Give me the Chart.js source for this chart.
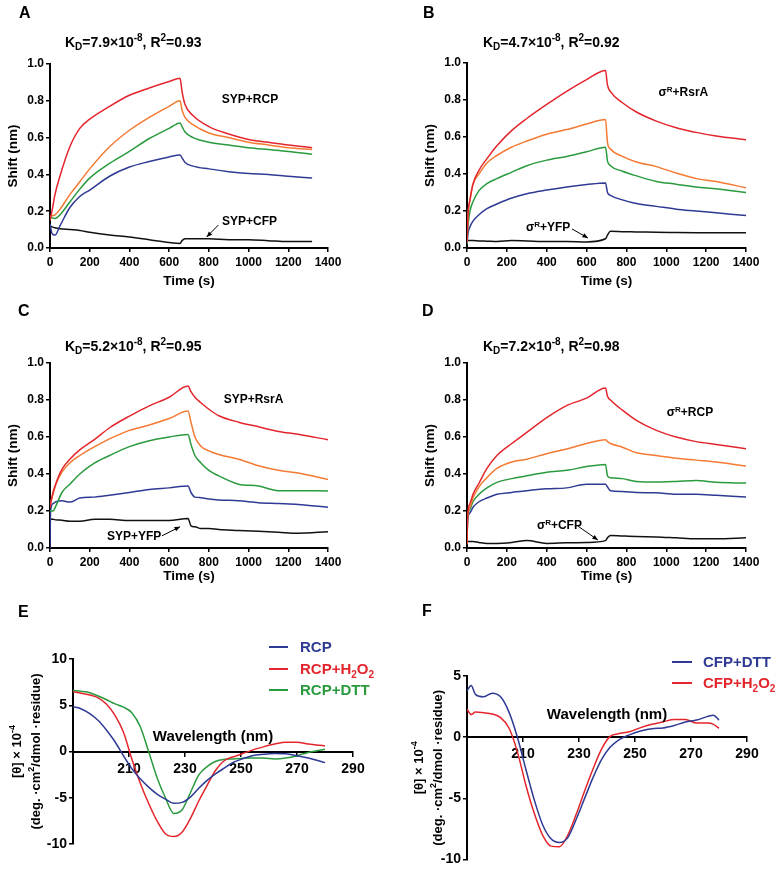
<!DOCTYPE html>
<html>
<head>
<meta charset="utf-8">
<script src="https://cdn.jsdelivr.net/npm/chart.js@4.4.1/dist/chart.umd.min.js"></script>
<style>
  body { margin: 0; background: #fff; }
  #fig { position: relative; width: 782px; height: 870px; background: #fff; }
  #fig canvas { position: absolute; }
</style>
</head>
<body>
<div id="fig">
  <canvas id="panelA" width="391" height="292" style="left:0;top:0"></canvas>
  <canvas id="panelB" width="391" height="292" style="left:391px;top:0"></canvas>
  <canvas id="panelC" width="391" height="292" style="left:0;top:292px"></canvas>
  <canvas id="panelD" width="391" height="292" style="left:391px;top:292px"></canvas>
  <canvas id="panelE" width="391" height="286" style="left:0;top:584px"></canvas>
  <canvas id="panelF" width="391" height="286" style="left:391px;top:584px"></canvas>
</div>
<script>
// ---- data ----
// A: SYP + RCP
const timeA = [0, 10, 25, 50, 100, 150, 200, 300, 400, 500, 600, 655, 665, 680, 720, 800, 900, 1000, 1100, 1200, 1320];
const redA = [0.15, 0.20, 0.29, 0.39, 0.55, 0.65, 0.70, 0.77, 0.83, 0.87, 0.905, 0.922, 0.85, 0.78, 0.72, 0.66, 0.62, 0.59, 0.575, 0.56, 0.545];
const orangeA = [0.17, 0.175, 0.18, 0.21, 0.29, 0.36, 0.43, 0.55, 0.64, 0.71, 0.77, 0.80, 0.75, 0.71, 0.67, 0.625, 0.60, 0.575, 0.56, 0.545, 0.535];
const greenA = [0.16, 0.165, 0.16, 0.18, 0.25, 0.32, 0.38, 0.46, 0.525, 0.595, 0.65, 0.68, 0.66, 0.63, 0.60, 0.575, 0.56, 0.545, 0.535, 0.525, 0.51];
const blueA = [0.13, 0.08, 0.07, 0.12, 0.22, 0.28, 0.315, 0.39, 0.44, 0.47, 0.495, 0.505, 0.49, 0.465, 0.445, 0.43, 0.415, 0.405, 0.40, 0.39, 0.38];
const blackA = [0.12, 0.115, 0.11, 0.105, 0.10, 0.095, 0.085, 0.07, 0.06, 0.045, 0.03, 0.025, 0.04, 0.05, 0.05, 0.05, 0.045, 0.045, 0.04, 0.035, 0.035];

// B: sigmaR + RsrA
const timeB = [0, 5, 15, 30, 60, 100, 150, 225, 300, 400, 500, 600, 695, 705, 720, 780, 850, 950, 1050, 1150, 1250, 1400];
const redB = [0.03, 0.18, 0.26, 0.345, 0.42, 0.483, 0.553, 0.636, 0.70, 0.776, 0.847, 0.91, 0.96, 0.88, 0.845, 0.785, 0.735, 0.686, 0.65, 0.625, 0.605, 0.585];
const orangeB = [0.03, 0.18, 0.26, 0.345, 0.40, 0.46, 0.50, 0.546, 0.578, 0.615, 0.64, 0.67, 0.695, 0.57, 0.535, 0.495, 0.465, 0.44, 0.405, 0.375, 0.36, 0.325];
const greenB = [0.02, 0.12, 0.20, 0.25, 0.31, 0.348, 0.375, 0.41, 0.445, 0.475, 0.495, 0.52, 0.545, 0.47, 0.445, 0.415, 0.39, 0.36, 0.345, 0.33, 0.32, 0.30];
const blueB = [0.02, 0.08, 0.115, 0.145, 0.18, 0.213, 0.238, 0.27, 0.293, 0.313, 0.33, 0.343, 0.352, 0.30, 0.285, 0.26, 0.24, 0.225, 0.21, 0.20, 0.19, 0.175];
const blackB = [0.04, 0.04, 0.04, 0.04, 0.038, 0.037, 0.035, 0.04, 0.038, 0.035, 0.035, 0.033, 0.05, 0.07, 0.09, 0.088, 0.087, 0.085, 0.084, 0.083, 0.082, 0.082];

// C: SYP + RsrA
const timeC = [0, 3, 15, 30, 60, 100, 150, 225, 300, 400, 500, 600, 695, 710, 730, 760, 800, 850, 950, 1050, 1150, 1250, 1400];
const redC = [0.22, 0.24, 0.30, 0.35, 0.425, 0.48, 0.53, 0.587, 0.65, 0.713, 0.768, 0.815, 0.876, 0.845, 0.815, 0.785, 0.75, 0.715, 0.68, 0.655, 0.63, 0.615, 0.585];
const orangeC = [0.22, 0.24, 0.29, 0.345, 0.41, 0.46, 0.50, 0.548, 0.59, 0.636, 0.665, 0.70, 0.74, 0.68, 0.60, 0.55, 0.525, 0.505, 0.48, 0.445, 0.42, 0.405, 0.37];
const greenC = [0.20, 0.20, 0.20, 0.228, 0.30, 0.345, 0.40, 0.46, 0.50, 0.548, 0.58, 0.60, 0.614, 0.56, 0.50, 0.46, 0.42, 0.39, 0.345, 0.335, 0.31, 0.31, 0.308];
const blueC = [0.0, 0.20, 0.24, 0.25, 0.255, 0.248, 0.27, 0.275, 0.285, 0.30, 0.316, 0.325, 0.335, 0.30, 0.275, 0.272, 0.265, 0.26, 0.255, 0.245, 0.24, 0.235, 0.22];
const blackC = [0.155, 0.155, 0.155, 0.152, 0.15, 0.145, 0.145, 0.155, 0.155, 0.148, 0.148, 0.148, 0.16, 0.12, 0.115, 0.105, 0.105, 0.10, 0.095, 0.09, 0.085, 0.08, 0.088];

// D: sigmaR + RCP
const timeD = [0, 3, 15, 30, 60, 100, 150, 225, 300, 400, 500, 600, 695, 705, 720, 780, 850, 950, 1050, 1150, 1250, 1400];
const redD = [0.02, 0.17, 0.24, 0.29, 0.35, 0.43, 0.50, 0.565, 0.625, 0.705, 0.77, 0.81, 0.865, 0.82, 0.80, 0.745, 0.69, 0.636, 0.60, 0.575, 0.56, 0.537];
const orangeD = [0.02, 0.16, 0.22, 0.27, 0.33, 0.38, 0.43, 0.465, 0.48, 0.51, 0.535, 0.565, 0.585, 0.575, 0.565, 0.545, 0.515, 0.50, 0.485, 0.475, 0.465, 0.443];
const greenD = [0.02, 0.16, 0.21, 0.25, 0.29, 0.325, 0.355, 0.375, 0.39, 0.41, 0.42, 0.44, 0.452, 0.39, 0.38, 0.375, 0.36, 0.357, 0.36, 0.365, 0.355, 0.351];
const blueD = [0.02, 0.15, 0.19, 0.22, 0.25, 0.27, 0.29, 0.30, 0.31, 0.32, 0.325, 0.345, 0.345, 0.33, 0.31, 0.305, 0.30, 0.298, 0.29, 0.29, 0.285, 0.276];
const blackD = [0.035, 0.035, 0.035, 0.035, 0.03, 0.025, 0.025, 0.03, 0.04, 0.025, 0.028, 0.03, 0.04, 0.055, 0.068, 0.065, 0.062, 0.06, 0.055, 0.05, 0.05, 0.055];

// E: CD spectra of RCP
const wlE = [190, 193, 196, 199, 202, 205, 208, 211, 214, 217, 220, 223, 226, 229, 232, 235, 238, 241, 244, 247, 250, 254, 258, 262, 266, 270, 274, 280];
const rcpE = [4.85, 4.6, 4.1, 3.35, 2.3, 1.05, -0.45, -1.85, -2.95, -3.85, -4.6, -5.15, -5.6, -5.5, -4.9, -3.95, -3.1, -2.4, -1.8, -1.22, -0.85, -0.45, -0.3, -0.22, -0.25, -0.45, -0.7, -1.2];
const rcpH2o2E = [6.45, 6.3, 6.1, 5.8, 5.1, 3.9, 2.1, -0.8, -3.4, -5.6, -7.5, -8.9, -9.2, -8.7, -7.2, -5.3, -3.6, -2.0, -1.0, -0.6, -0.3, 0.15, 0.5, 0.8, 1.0, 1.0, 0.8, 0.6];
const rcpDttE = [6.6, 6.5, 6.35, 6.0, 5.6, 5.15, 4.8, 4.2, 2.7, 0.0, -2.8, -5.0, -6.7, -6.3, -4.4, -2.5, -1.6, -1.05, -0.85, -0.8, -0.75, -0.7, -0.7, -0.8, -0.7, -0.45, -0.1, 0.25];

// F: CD spectra of CFP
const wlF = [190, 191.5, 193, 196, 199, 202, 205, 208, 211, 214, 217, 220, 223, 226, 229, 232, 235, 238, 241, 244, 248, 252, 256, 260, 264, 268, 272, 276, 278, 280];
const cfpDttF = [3.8, 4.23, 3.5, 3.3, 3.6, 3.3, 2.05, 0.0, -2.6, -5.1, -7.15, -8.3, -8.6, -8.2, -6.7, -5.0, -3.3, -1.85, -0.85, -0.25, 0.19, 0.5, 0.7, 0.75, 0.95, 1.25, 1.4, 1.7, 1.8, 1.4];
const cfpH2o2F = [2.3, 1.85, 2.05, 2.0, 1.9, 1.6, 0.75, -1.2, -3.9, -6.2, -8.0, -8.9, -8.95, -8.0, -6.3, -4.4, -2.6, -1.0, 0.05, 0.28, 0.45, 0.78, 1.05, 1.25, 1.45, 1.45, 1.15, 1.15, 1.05, 0.73];

const timeTicks = [0, 200, 400, 600, 800, 1000, 1200, 1400];
const wlTicks = [190, 210, 230, 250, 270, 290];

// ---- styling ----
const FONT = "'Liberation Sans', Arial, Helvetica, sans-serif";
const RED = '#e3262d', ORANGE = '#f47a33', GREEN = '#2a9a3e', BLUE = '#2e3a93', BLACK = '#111111';
Chart.defaults.font.family = FONT;
Chart.defaults.color = '#000';

// text like "K_D=7.9×10^{-8}" -> runs of normal / sub / sup
function parseRich(str) {
    const parts = [];
    let i = 0, buf = '';
    while (i < str.length) {
        const c = str[i];
        if (c === '_' || c === '^') {
            if (buf) { parts.push([buf, 'n']); buf = ''; }
            let t;
            if (str[i + 1] === '{') {
                const j = str.indexOf('}', i);
                t = str.slice(i + 2, j);
                i = j + 1;
            } else {
                t = str[i + 1];
                i += 2;
            }
            parts.push([t, c === '_' ? 'sub' : 'sup']);
        } else {
            buf += c;
            i++;
        }
    }
    if (buf) parts.push([buf, 'n']);
    return parts;
}

function drawRich(ctx, str, x, y, size, opts) {
    opts = opts || {};
    const parts = parseRich(str);
    const fontFor = m => `bold ${m === 'n' ? size : Math.round(size * 0.68)}px ${FONT}`;
    let total = 0;
    const widths = parts.map(p => {
        ctx.font = fontFor(p[1]);
        const w = ctx.measureText(p[0]).width;
        total += w;
        return w;
    });
    let cx = opts.align === 'center' ? x - total / 2 : (opts.align === 'right' ? x - total : x);
    const base = y + size * 0.36;
    ctx.save();
    ctx.fillStyle = opts.color || '#000';
    ctx.textBaseline = 'alphabetic';
    ctx.textAlign = 'left';
    parts.forEach((p, i) => {
        ctx.font = fontFor(p[1]);
        const dy = p[1] === 'sup' ? -size * 0.4 : (p[1] === 'sub' ? size * 0.22 : 0);
        ctx.fillText(p[0], cx, base + dy);
        cx += widths[i];
    });
    ctx.restore();
}

function drawArrow(ctx, x1, y1, x2, y2) {
    const ang = Math.atan2(y2 - y1, x2 - x1), h = 6;
    ctx.save();
    ctx.strokeStyle = '#000';
    ctx.fillStyle = '#000';
    ctx.lineWidth = 1;
    ctx.beginPath();
    ctx.moveTo(x1, y1);
    ctx.lineTo(x2, y2);
    ctx.stroke();
    ctx.beginPath();
    ctx.moveTo(x2, y2);
    ctx.lineTo(x2 - h * Math.cos(ang - 0.4), y2 - h * Math.sin(ang - 0.4));
    ctx.lineTo(x2 - h * Math.cos(ang + 0.4), y2 - h * Math.sin(ang + 0.4));
    ctx.closePath();
    ctx.fill();
    ctx.restore();
}

// extra texts per panel (letters, K_D titles, labels, arrows, legends)
const PANEL_TEXT = {
    panelA: {
        letter: ['A', 19, 12], title: ['K_D=7.9×10^{-8}, R^2=0.93', 65, 41.5],
        notes: [{ text: 'SYP+RCP', x: 1007, y: 0.81, align: 'center' }, { text: 'SYP+CFP', x: 866, y: 0.147 }],
        arrows: [[848, 0.125, 789, 0.06]]
    },
    panelB: {
        letter: ['B', 32, 12], title: ['K_D=4.7×10^{-8}, R^2=0.92', 92, 41.5],
        notes: [{ text: 'σ^R+RsrA', x: 1086, y: 0.843, align: 'center' }, { text: 'σ^R+YFP', x: 296, y: 0.113 }],
        arrows: [[527, 0.103, 607, 0.054]]
    },
    panelC: {
        letter: ['C', 18, 18], title: ['K_D=5.2×10^{-8}, R^2=0.95', 65, 53.5],
        notes: [{ text: 'SYP+RsrA', x: 1025, y: 0.805, align: 'center' }, { text: 'SYP+YFP', x: 287, y: 0.065 }],
        arrows: [[564, 0.066, 655, 0.115]]
    },
    panelD: {
        letter: ['D', 31, 18], title: ['K_D=7.2×10^{-8}, R^2=0.98', 92, 53.7],
        notes: [{ text: 'σ^R+RCP', x: 1119, y: 0.735, align: 'center' }, { text: 'σ^R+CFP', x: 351, y: 0.124 }],
        arrows: [[557, 0.118, 657, 0.043]]
    },
    panelE: {
        letter: ['E', 18, 27],
        notes: [{ text: 'Wavelength (nm)', x: 240, y: 1.7, align: 'center', size: 15 }],
        legend: { x1: 269, x2: 288, tx: 300, ys: [63, 85, 106] },
        yTitle: { lines: ['[θ] × 10^{-4}', '(deg. ·cm^2/dmol ·residue)'], x: [16, 35] }
    },
    panelF: {
        letter: ['F', 31, 26],
        notes: [{ text: 'Wavelength (nm)', x: 240, y: 1.95, align: 'center', size: 15 }],
        legend: { x1: 281, x2: 301, tx: 312, ys: [78, 99] },
        yTitle: { lines: ['[θ] × 10^{-4}', '(deg. ·cm^2/dmol ·residue)'], x: [27, 46] }
    }
};

const panelText = {
    id: 'panelText',
    afterDraw(chart) {
        const o = PANEL_TEXT[chart.canvas.id];
        if (!o) return;
        const ctx = chart.ctx, xs = chart.scales.x, ys = chart.scales.y, area = chart.chartArea;
        const px = v => xs.getPixelForValue(v), py = v => ys.getPixelForValue(v);
        if (o.letter) drawRich(ctx, o.letter[0], o.letter[1], o.letter[2], 16);
        if (o.title) drawRich(ctx, o.title[0], o.title[1], o.title[2], 14);
        (o.notes || []).forEach(n => drawRich(ctx, n.text, px(n.x), py(n.y), n.size || 12, { align: n.align || 'left' }));
        (o.arrows || []).forEach(a => drawArrow(ctx, px(a[0]), py(a[1]), px(a[2]), py(a[3])));
        if (o.legend) {
            const L = o.legend;
            chart.data.datasets.forEach((ds, i) => {
                ctx.save();
                ctx.strokeStyle = ds.borderColor;
                ctx.lineWidth = 2;
                ctx.beginPath();
                ctx.moveTo(L.x1, L.ys[i]);
                ctx.lineTo(L.x2, L.ys[i]);
                ctx.stroke();
                ctx.restore();
                drawRich(ctx, ds.label, L.tx, L.ys[i], 15, { color: ds.borderColor });
            });
        }
        if (o.yTitle) {
            const cy = (area.top + area.bottom) / 2;
            o.yTitle.lines.forEach((s, i) => {
                ctx.save();
                ctx.translate(o.yTitle.x[i], cy);
                ctx.rotate(-Math.PI / 2);
                drawRich(ctx, s, 0, 0, 13, { align: 'center' });
                ctx.restore();
            });
        }
    }
};
Chart.register(panelText);

function series(xs, ys, color, label) {
    return {
        label: label,
        data: xs.map((x, i) => ({ x: x, y: ys[i] })),
        borderColor: color,
        backgroundColor: color,
        borderWidth: 1.5,
        pointRadius: 0,
        cubicInterpolationMode: 'monotone',
        fill: false
    };
}

function makeKinetic(id, box, datasets) {
    const canvas = document.getElementById(id);
    const W = canvas.width, H = canvas.height;
    const yw = 50;
    return new Chart(canvas, {
        type: 'line',
        data: { datasets: datasets },
        options: {
            responsive: false, animation: false, devicePixelRatio: 1,
            layout: { padding: { left: box.l - yw, top: box.t, right: W - box.r, bottom: 0 } },
            plugins: { legend: { display: false }, tooltip: { enabled: false } },
            scales: {
                x: {
                    type: 'linear', min: 0, max: 1400,
                    afterBuildTicks: s => { s.ticks = timeTicks.map(v => ({ value: v })); },
                    grid: { drawOnChartArea: false, tickLength: 4, color: '#000', lineWidth: 1.5 },
                    border: { color: '#000', width: 2 },
                    ticks: { color: '#000', font: { size: 12, weight: 'bold' }, padding: 3, maxRotation: 0, callback: v => String(v) },
                    title: { display: true, text: 'Time (s)', color: '#000', font: { size: 13.5, weight: 'bold' }, padding: { top: 0, bottom: box.tp } },
                    afterFit: s => { s.height = H - box.b; }
                },
                y: {
                    type: 'linear', min: 0, max: 1,
                    grid: { drawOnChartArea: false, tickLength: 4, color: '#000', lineWidth: 1.5 },
                    border: { color: '#000', width: 2 },
                    ticks: { stepSize: 0.2, color: '#000', font: { size: 12, weight: 'bold' }, padding: 2, callback: v => v.toFixed(1) },
                    title: { display: true, text: 'Shift (nm)', color: '#000', font: { size: 13.5, weight: 'bold' }, padding: { top: 5, bottom: 0 } },
                    afterFit: s => { s.width = yw; }
                }
            }
        }
    });
}

function makeCD(id, box, datasets, yMin, yMax) {
    const canvas = document.getElementById(id);
    const W = canvas.width, H = canvas.height;
    return new Chart(canvas, {
        type: 'line',
        data: { datasets: datasets },
        options: {
            responsive: false, animation: false, devicePixelRatio: 1,
            layout: { padding: { left: 0, top: box.t, right: W - box.r, bottom: H - box.b } },
            plugins: { legend: { display: false }, tooltip: { enabled: false } },
            scales: {
                x: {
                    type: 'linear', position: { y: 0 }, min: 190, max: 290,
                    afterBuildTicks: s => { s.ticks = wlTicks.map(v => ({ value: v })); },
                    grid: { drawOnChartArea: false, tickLength: 4, color: '#000', lineWidth: 1.5 },
                    border: { color: '#000', width: 2 },
                    ticks: { color: '#000', font: { size: 14, weight: 'bold' }, padding: 5, maxRotation: 0, callback: v => (v === 190 ? '' : String(v)) }
                },
                y: {
                    type: 'linear', min: yMin, max: yMax,
                    grid: { drawOnChartArea: false, tickLength: 4, color: '#000', lineWidth: 1.5 },
                    border: { color: '#000', width: 2 },
                    ticks: { stepSize: 5, color: '#000', font: { size: 14, weight: 'bold' }, padding: 2, callback: v => String(v) },
                    afterFit: s => { s.width = box.l; }
                }
            }
        }
    });
}

makeKinetic('panelA', { l: 50, t: 64, r: 328, b: 248, tp: 3 }, [
    series(timeA, redA, RED), series(timeA, orangeA, ORANGE), series(timeA, greenA, GREEN),
    series(timeA, blueA, BLUE), series(timeA, blackA, BLACK)
]);
makeKinetic('panelB', { l: 76, t: 63, r: 355, b: 248, tp: 3 }, [
    series(timeB, redB, RED), series(timeB, orangeB, ORANGE), series(timeB, greenB, GREEN),
    series(timeB, blueB, BLUE), series(timeB, blackB, BLACK)
]);
makeKinetic('panelC', { l: 50, t: 71, r: 328, b: 256, tp: 0 }, [
    series(timeC, redC, RED), series(timeC, orangeC, ORANGE), series(timeC, greenC, GREEN),
    series(timeC, blueC, BLUE), series(timeC, blackC, BLACK)
]);
makeKinetic('panelD', { l: 76, t: 71, r: 355, b: 256, tp: 0 }, [
    series(timeD, redD, RED), series(timeD, orangeD, ORANGE), series(timeD, greenD, GREEN),
    series(timeD, blueD, BLUE), series(timeD, blackD, BLACK)
]);
makeCD('panelE', { l: 73, t: 75, r: 353, b: 260 }, [
    series(wlE, rcpE, BLUE, 'RCP'), series(wlE, rcpH2o2E, RED, 'RCP+H_2O_2'), series(wlE, rcpDttE, GREEN, 'RCP+DTT')
], -10, 10);
makeCD('panelF', { l: 76, t: 92, r: 356, b: 278 }, [
    series(wlF, cfpDttF, BLUE, 'CFP+DTT'), series(wlF, cfpH2o2F, RED, 'CFP+H_2O_2')
], -10, 5);
</script>
</body>
</html>
